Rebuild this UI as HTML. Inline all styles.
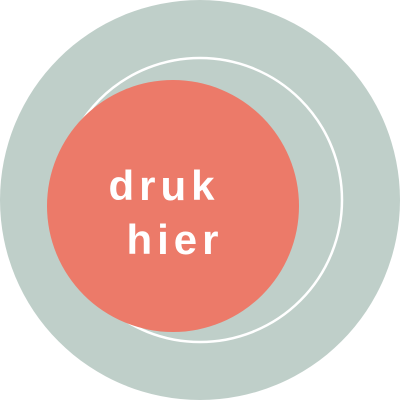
<!DOCTYPE html>
<html><head><meta charset="utf-8"><style>
html,body{margin:0;padding:0;background:#fff;}
svg{display:block;}
</style></head><body>
<svg width="400" height="400" viewBox="0 0 400 400">
<circle cx="200" cy="200" r="200" fill="#bfcfc9"/>
<circle cx="200" cy="200" r="142" fill="none" stroke="#ffffff" stroke-width="2.5"/>
<g>
<circle cx="173" cy="206" r="126" fill="#ec7a69"/>
<text x="164" y="200" text-anchor="middle" fill="#fff" font-family="Liberation Sans, sans-serif" font-size="42" font-weight="bold" letter-spacing="5">druk</text>
<text x="175" y="254" text-anchor="middle" fill="#fff" font-family="Liberation Sans, sans-serif" font-size="42" font-weight="bold" letter-spacing="5">hier</text>
</g>
</svg>
</body></html>
